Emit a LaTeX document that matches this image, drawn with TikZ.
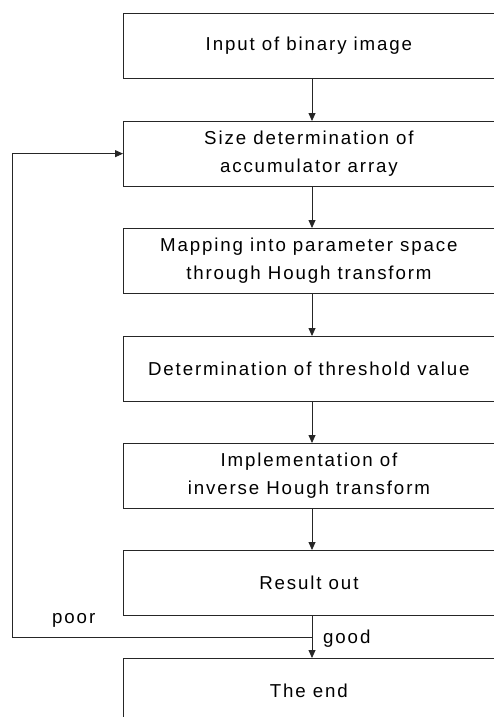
\documentclass[tikz,border=0pt]{standalone}
\usepackage{fontspec}
\setmainfont{Liberation Sans}[LetterSpace=10]
\usetikzlibrary{arrows.meta}
\begin{document}
\begin{tikzpicture}[x=1pt,y=-1pt,
  box/.style={draw=black!85, line width=0.8pt, minimum width=371pt, minimum height=64.5pt,
    inner sep=0pt, align=center, font=\fontsize{18.7}{28}\selectfont, anchor=north west},
  lbl/.style={inner sep=0pt, font=\fontsize{18.7}{28}\selectfont},
  arr/.style={draw=black!85, line width=0.8pt, -{Triangle[length=8pt,width=7pt]}},
  ln/.style={draw=black!85, line width=0.8pt}]
\useasboundingbox (0,0) rectangle (493,717);
\fill[white] (0,0) rectangle (493,717);
\node[box] (b1) at (123,13) {Input of binary image};
\node[box] (b2) at (123,121) {Size determination of\\accumulator array};
\node[box] (b3) at (123,228) {Mapping into parameter space\\through Hough transform};
\node[box] (b4) at (123,336) {Determination of threshold value};
\node[box] (b5) at (123,443) {Implementation of\\inverse Hough transform};
\node[box] (b6) at (123,550) {Result out};
\node[box] (b7) at (123,658) {The end};
\coordinate (cx) at (312,0);
\coordinate (lx) at (12,0);
\coordinate (j) at (312,637);
\draw[arr] (b1.south -| cx) -- (b2.north -| cx);
\draw[arr] (b2.south -| cx) -- (b3.north -| cx);
\draw[arr] (b3.south -| cx) -- (b4.north -| cx);
\draw[arr] (b4.south -| cx) -- (b5.north -| cx);
\draw[arr] (b5.south -| cx) -- (b6.north -| cx);
\draw[arr] (b6.south -| cx) -- (b7.north -| cx);
\draw[arr] (j) -- (j -| lx) |- (b2.west);
\node[lbl, anchor=base west] (poor) at (52,623) {poor};
\node[lbl, anchor=base west] (good) at (323,643) {good};
\end{tikzpicture}
\end{document}
